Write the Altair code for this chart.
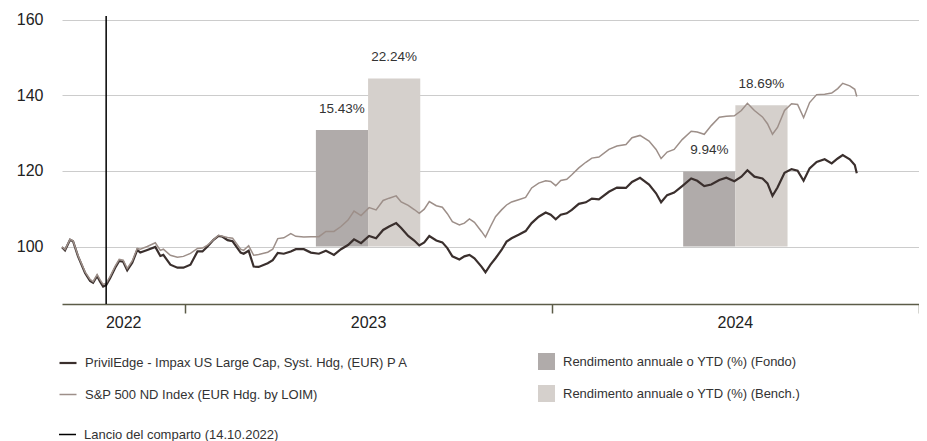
import altair as alt
import pandas as pd

FONT = "Liberation Sans"

FUND = "PrivilEdge - Impax US Large Cap, Syst. Hdg, (EUR) P A"
BENCH = "S&P 500 ND Index (EUR Hdg. by LOIM)"
BAR_F = "Rendimento annuale o YTD (%) (Fondo)"
BAR_B = "Rendimento annuale o YTD (%) (Bench.)"
LAUNCH = "Lancio del comparto (14.10.2022)"

dates_2022 = ["2022-08-31", "2022-09-03", "2022-09-08", "2022-09-11", "2022-09-16", "2022-09-23",
              "2022-09-28", "2022-10-01", "2022-10-05", "2022-10-08", "2022-10-11", "2022-10-14",
              "2022-10-18", "2022-10-23", "2022-10-27", "2022-10-31", "2022-11-04", "2022-11-09",
              "2022-11-14", "2022-11-17", "2022-11-24", "2022-12-02", "2022-12-07", "2022-12-10",
              "2022-12-17", "2022-12-24", "2022-12-30"]
fund_2022 = [99.8, 99.0, 101.8, 101.4, 97.4, 93.0, 90.9, 90.4, 92.2, 90.7, 89.4, 89.8, 91.7, 94.4,
             96.2, 96.0, 93.7, 95.7, 99.1, 98.4, 99.1, 99.9, 97.5, 97.8, 95.2, 94.4, 94.4]
bench_2022 = [99.9, 99.2, 101.9, 101.5, 97.6, 93.3, 91.3, 90.7, 92.6, 91.2, 90.0, 90.3, 92.1, 94.8,
              96.6, 96.4, 94.2, 96.2, 99.5, 99.3, 100.0, 101.0, 99.0, 99.3, 97.7, 97.2, 97.4]

dates_2023 = ["2023-01-06", "2023-01-13", "2023-01-18", "2023-01-23", "2023-01-29", "2023-02-03",
              "2023-02-07", "2023-02-12", "2023-02-17", "2023-02-25", "2023-02-28", "2023-03-05",
              "2023-03-10", "2023-03-15", "2023-03-24", "2023-03-29", "2023-04-03", "2023-04-09",
              "2023-04-16", "2023-04-21", "2023-04-29", "2023-05-06", "2023-05-14", "2023-05-21",
              "2023-05-29", "2023-06-05", "2023-06-12", "2023-06-18", "2023-06-25", "2023-07-03",
              "2023-07-10", "2023-07-17", "2023-07-23", "2023-07-30", "2023-08-04", "2023-08-11",
              "2023-08-17", "2023-08-22", "2023-08-27", "2023-09-01", "2023-09-08", "2023-09-14",
              "2023-09-19", "2023-09-24", "2023-10-01", "2023-10-06", "2023-10-11", "2023-10-16",
              "2023-10-23", "2023-10-27", "2023-11-01", "2023-11-06", "2023-11-12", "2023-11-17",
              "2023-11-22", "2023-11-29", "2023-12-06", "2023-12-12", "2023-12-19", "2023-12-26",
              "2023-12-31"]
fund_2023 = [95.2, 98.7, 98.7, 100.0, 101.8, 102.8, 102.6, 101.7, 101.4, 98.4, 98.1, 98.9, 94.7,
             94.6, 95.6, 96.4, 98.3, 98.1, 98.7, 99.3, 99.3, 98.4, 98.1, 98.9, 97.8, 99.3, 100.4,
             101.9, 100.9, 102.8, 102.2, 104.4, 105.3, 106.2, 104.9, 102.8, 101.6, 100.3, 101.1,
             102.8, 101.6, 101.1, 99.6, 97.4, 96.6, 97.4, 97.8, 96.9, 94.7, 93.2, 95.2, 96.9, 99.1,
             101.3, 102.2, 103.1, 104.1, 106.2, 107.9, 109.0, 108.4]
bench_2023 = [98.2, 99.5, 99.6, 100.4, 101.8, 103.0, 102.7, 102.4, 102.2, 99.3, 99.0, 100.2, 97.7,
              97.9, 98.5, 99.3, 102.1, 102.3, 103.4, 102.7, 102.5, 102.6, 102.6, 104.0, 104.0, 105.3,
              107.0, 109.4, 108.2, 110.3, 109.7, 112.2, 112.8, 113.4, 111.8, 110.9, 109.8, 108.8,
              109.9, 111.9, 110.8, 110.4, 108.7, 106.6, 105.7, 106.2, 107.3, 106.4, 104.0, 102.5,
              105.3, 107.9, 109.7, 111.0, 111.8, 112.4, 113.0, 115.5, 116.8, 117.4, 117.2]

dates_2024 = ["2024-01-05", "2024-01-10", "2024-01-16", "2024-01-21", "2024-01-28", "2024-02-04",
              "2024-02-10", "2024-02-17", "2024-02-27", "2024-03-06", "2024-03-15", "2024-03-21",
              "2024-03-29", "2024-04-07", "2024-04-14", "2024-04-19", "2024-04-25", "2024-05-02",
              "2024-05-10", "2024-05-19", "2024-05-25", "2024-06-01", "2024-06-08", "2024-06-16",
              "2024-06-23", "2024-07-01", "2024-07-08", "2024-07-14", "2024-07-21", "2024-07-29",
              "2024-08-03", "2024-08-08", "2024-08-13", "2024-08-20", "2024-08-27", "2024-09-02",
              "2024-09-08", "2024-09-14", "2024-09-21", "2024-09-29", "2024-10-06", "2024-10-12",
              "2024-10-17", "2024-10-24", "2024-10-29", "2024-10-31"]
fund_2024 = [107.2, 108.4, 108.8, 109.7, 111.3, 111.7, 112.7, 112.5, 114.5, 115.6, 115.5, 117.1,
             118.2, 116.4, 114.1, 111.7, 113.6, 114.3, 116.0, 118.0, 117.4, 116.0, 116.4, 117.6,
             118.2, 117.3, 118.5, 120.2, 118.5, 118.0, 116.7, 113.4, 115.6, 119.5, 120.5, 120.1,
             117.4, 120.7, 122.4, 123.1, 122.0, 123.3, 124.2, 123.1, 121.6, 119.4]
bench_2024 = [116.1, 117.5, 117.8, 119.0, 120.8, 122.3, 123.4, 123.7, 125.7, 126.6, 127.0, 128.8,
              129.4, 127.9, 125.7, 123.3, 125.0, 125.7, 128.3, 130.5, 130.3, 129.7, 132.0, 134.2,
              134.5, 134.6, 136.0, 137.9, 136.0, 134.3, 132.5, 129.7, 131.5, 136.0, 137.8, 137.6,
              134.1, 138.1, 140.2, 140.3, 140.6, 141.8, 143.2, 142.5, 141.6, 139.7]

bar_years = [2023, 2024]
fund_returns = [15.43, 9.94]
bench_returns = [22.24, 18.69]

year_labels = [2022, 2023, 2024]
launch_date = "2022-10-14"
x_start = "2022-08-31"
x_end = "2025-01-01"

# ---------- tables ----------
dates = dates_2022 + dates_2023 + dates_2024
fund = fund_2022 + fund_2023 + fund_2024
bench = bench_2022 + bench_2023 + bench_2024
line_df = pd.DataFrame({
    "date": dates + dates,
    "value": fund + bench,
    "series": [FUND] * len(dates) + [BENCH] * len(dates),
})

rows = []
for y, f, b in zip(bar_years, fund_returns, bench_returns):
    mid = pd.Timestamp(f"{y}-07-02")
    half = pd.Timedelta(days=52)
    for kind, val, s, e in [(BAR_F, f, mid - half, mid), (BAR_B, b, mid, mid + half)]:
        rows.append({"kind": kind, "ret": val, "start": s.strftime("%Y-%m-%d"),
                     "end": e.strftime("%Y-%m-%d"),
                     "mid": (s + (e - s) / 2).strftime("%Y-%m-%d %H:%M"),
                     "label": f"{val:.2f}%"})
bar_df = pd.DataFrame(rows)

yl_rows = []
for y in year_labels:
    s = max(pd.Timestamp(x_start), pd.Timestamp(f"{y}-01-01"))
    e = pd.Timestamp(f"{y + 1}-01-01")
    yl_rows.append({"date": (s + (e - s) / 2).strftime("%Y-%m-%d %H:%M"), "label": str(y)})
year_df = pd.DataFrame(yl_rows)

launch_df = pd.DataFrame({"date": [launch_date], "label": [LAUNCH]})

# ---------- scales / axes ----------
W, H = 857, 288
x_scale = alt.Scale(domain=[alt.DateTime(year=2022, month=8, date=31),
                            alt.DateTime(year=2025, month=1, date=1)])
AXC = "#5c5c48"
x_axis = alt.Axis(values=[alt.DateTime(year=2023, month=1, date=1),
                          alt.DateTime(year=2024, month=1, date=1),
                          alt.DateTime(year=2025, month=1, date=1)],
                  labels=False, ticks=True, tickSize=9, tickColor=AXC, tickWidth=1.5,
                  domainColor=AXC, domainWidth=1.5, grid=False, title=None)

bar_y = alt.Scale(domain=[-7.6, 30.5])
line_y = alt.Scale(domain=[84.8, 161])

LEG = dict(title=None, labelFont=FONT, labelFontSize=13, labelColor="#333",
           labelLimit=0, padding=0, symbolSize=289)

bars = alt.Chart(bar_df).mark_bar().encode(
    x=alt.X("start:T", scale=x_scale, axis=x_axis),
    x2="end:T",
    y=alt.Y("ret:Q", scale=bar_y, axis=None),
    y2=alt.datum(0),
    fill=alt.Fill("kind:N",
                  scale=alt.Scale(domain=[BAR_F, BAR_B], range=["#b0abaa", "#d5d0cc"]),
                  legend=alt.Legend(orient="none", legendX=476, legendY=337,
                                    symbolType="square", symbolStrokeWidth=0,
                                    labelOffset=8, rowPadding=15, **LEG)),
)
bar_text = alt.Chart(bar_df).mark_text(font=FONT, fontSize=13.5, color="#333",
                                       baseline="alphabetic", dy=-17).encode(
    x=alt.X("mid:T", scale=x_scale, axis=x_axis),
    y=alt.Y("ret:Q", scale=bar_y, axis=None),
    text="label:N",
)
bar_layer = alt.layer(bars, bar_text)

lines = alt.Chart(line_df).mark_line().encode(
    x=alt.X("date:T", scale=x_scale, axis=x_axis),
    y=alt.Y("value:Q", scale=line_y,
            axis=alt.Axis(values=[100, 120, 140, 160], orient="left", domain=False, ticks=False,
                          grid=True, gridColor="#cccccc", gridWidth=1, labelFont=FONT,
                          labelFontSize=16, labelColor="#222", labelPadding=19, title=None)),
    stroke=alt.Stroke("series:N",
                      scale=alt.Scale(domain=[FUND, BENCH], range=["#3a2f2d", "#9d8f89"]),
                      legend=alt.Legend(orient="none", legendX=-4, legendY=337,
                                        symbolType="stroke", symbolStrokeWidth=2.5,
                                        labelOffset=7, rowPadding=15, **LEG)),
    strokeWidth=alt.StrokeWidth("series:N",
                                scale=alt.Scale(domain=[FUND, BENCH], range=[2.2, 1.5]),
                                legend=None),
)

rule = alt.Chart(launch_df).mark_rule(color="black", strokeWidth=1.5).encode(
    x=alt.X("date:T", scale=x_scale, axis=x_axis),
    strokeDash=alt.StrokeDash("label:N", scale=alt.Scale(domain=[LAUNCH], range=[[1, 0]]),
                              legend=alt.Legend(orient="none", legendX=-4, legendY=409,
                                                symbolType="stroke", symbolStrokeWidth=1.5,
                                                symbolStrokeColor="black", labelOffset=7, **LEG)),
)

years = alt.Chart(year_df).mark_text(font=FONT, fontSize=16, color="#222",
                                     baseline="alphabetic").encode(
    x=alt.X("date:T", scale=x_scale, axis=x_axis),
    y=alt.value(H + 24),
    text="label:N",
)

chart = alt.layer(bar_layer, lines, rule, years).resolve_scale(
    y="independent"
).properties(
    width=W, height=H,
    autosize=alt.AutoSizeParams(type="none"),
    padding={"left": 54, "top": 8, "right": 0, "bottom": 138},
).configure_view(stroke=None)

chart.save("out.html", embed_options={"renderer": "svg", "actions": False})
